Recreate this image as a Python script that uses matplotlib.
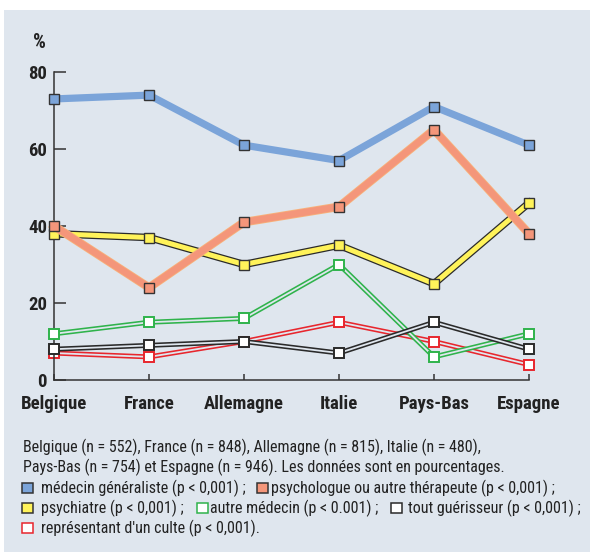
import matplotlib
matplotlib.use("Agg")
import matplotlib.pyplot as plt
import matplotlib.patheffects as pe
from matplotlib.patches import Rectangle

# data
pays = ["Belgique", "France", "Allemagne", "Italie", "Pays-Bas", "Espagne"]
generaliste = [73, 74, 61, 57, 71, 61]
psychologue = [40, 24, 41, 45, 65, 38]
psychiatre = [38, 37, 30, 35, 25, 46]
autre_medecin = [12, 15, 16, 30, 6, 12]
guerisseur = [8, 9, 10, 7, 15, 8]
culte = [7, 6, 10, 15, 10, 4]
yticks = [0, 20, 40, 60, 80]

legend_lines = [
    "Belgique (n = 552), France (n = 848), Allemagne (n = 815), Italie (n = 480),",
    "Pays-Bas (n = 754) et Espagne (n = 946). Les données sont en pourcentages.",
]

BG = "#dfe6ee"
DARK = "#333333"
BLUE = "#7ba4d9"
ORANGE = "#f4967a"
ORANGE_EDGE = "#f8b27a"
YELLOW = "#fff35a"
GREEN = "#2fb34b"
RED = "#e8262d"
BLACK = "#2a2a2a"

plt.rcParams["font.family"] = ["Roboto Condensed", "DejaVu Sans"]

W, H = 590, 552
fig = plt.figure(figsize=(W / 100, H / 100), dpi=100)
fig.patch.set_facecolor("white")
fig.add_artist(Rectangle((4 / W, 0), 1 - 4 / W, 1 - 10 / H, transform=fig.transFigure,
                         facecolor=BG, edgecolor="none", zorder=-10))

def px(x, y):
    return x / W, 1 - y / H

ax = fig.add_axes([54 / W, 1 - 380 / H, 475 / W, 308 / H])
ax.set_facecolor("none")
x = list(range(len(pays)))

def thin(vals, col, z):
    ax.plot(x, vals, color=BG, lw=1.3, zorder=z, clip_on=False,
            path_effects=[pe.Stroke(linewidth=3.6, foreground=col), pe.Normal()])
    ax.plot(x, vals, ls="none", marker="s", ms=6.5, mfc="white", mec=col, mew=1.4,
            zorder=z + 0.5, clip_on=False)

thin(culte, RED, 2)
thin(autre_medecin, GREEN, 3)
thin(guerisseur, BLACK, 4)

# psychiatre: yellow with black outline
ax.plot(x, psychiatre, color=YELLOW, lw=3.6, zorder=5, clip_on=False,
        path_effects=[pe.Stroke(linewidth=5.4, foreground=BLACK), pe.Normal()])
ax.plot(x, psychiatre, ls="none", marker="s", ms=6.5, mfc=YELLOW, mec=DARK, mew=1,
        zorder=5.5, clip_on=False)

# psychologue
ax.plot(x, psychologue, color=ORANGE, lw=5, zorder=6, clip_on=False,
        path_effects=[pe.Stroke(linewidth=6.2, foreground=ORANGE_EDGE), pe.Normal()])
ax.plot(x, psychologue, ls="none", marker="s", ms=6.5, mfc=ORANGE, mec=DARK, mew=1,
        zorder=6.5, clip_on=False)

# generaliste
ax.plot(x, generaliste, color=BLUE, lw=5.2, zorder=7, clip_on=False)
ax.plot(x, generaliste, ls="none", marker="s", ms=6.5, mfc=BLUE, mec=DARK, mew=1,
        zorder=7.5, clip_on=False)

ax.set_xlim(0, len(pays) - 1)
ax.set_ylim(0, 80)
for s in ["top", "right"]:
    ax.spines[s].set_visible(False)
for s in ["left", "bottom"]:
    ax.spines[s].set_color(DARK)
    ax.spines[s].set_linewidth(1.1)
ax.set_yticks(yticks)
ax.set_yticklabels([str(v) for v in yticks], fontsize=13.5, fontweight="bold", color="#222222")
ax.set_xticks(x)
ax.set_xticklabels(pays, fontsize=13.5, fontweight="bold", color="#222222")
ax.tick_params(axis="y", direction="in", length=8.6, width=1.1, color=DARK, pad=5)
ax.tick_params(axis="x", direction="in", length=4.5, width=1.1, color=DARK, pad=11)

fig.text(*px(39, 43), "%", fontsize=14.5, fontweight="bold", color="#222222",
         ha="center", va="center")

# legend / caption block
FS = 11.5
TXT = "#222222"
ys = [447, 467, 488, 508, 528]
for i, line in enumerate(legend_lines):
    fig.text(*px(23, ys[i]), line, fontsize=FS, color=TXT, va="center", ha="left")

def sq(xl, yc, face, edge):
    x0, y0 = px(xl, yc + 5)
    fig.add_artist(Rectangle((x0, y0), 11 / W, 10 / H, transform=fig.transFigure,
                             facecolor=face, edgecolor=edge, lw=1.1, zorder=5))

items = [
    (ys[2], 22, 41, BLUE, DARK, "médecin généraliste (p < 0,001) ;"),
    (ys[2], 257, 271, ORANGE, DARK, "psychologue ou autre thérapeute (p < 0,001) ;"),
    (ys[3], 22, 41, YELLOW, DARK, "psychiatre (p < 0,001) ;"),
    (ys[3], 197, 210, "white", GREEN, "autre médecin (p < 0.001) ;"),
    (ys[3], 391, 408, "white", BLACK, "tout guérisseur (p < 0,001) ;"),
    (ys[4], 22, 41, "white", RED, "représentant d'un culte (p < 0,001)."),
]
for yc, xs, xt, face, edge, label in items:
    sq(xs, yc, face, edge)
    fig.text(*px(xt, yc), label, fontsize=FS, color=TXT, va="center", ha="left")

fig.savefig("out.png", dpi=100, facecolor=fig.get_facecolor())
